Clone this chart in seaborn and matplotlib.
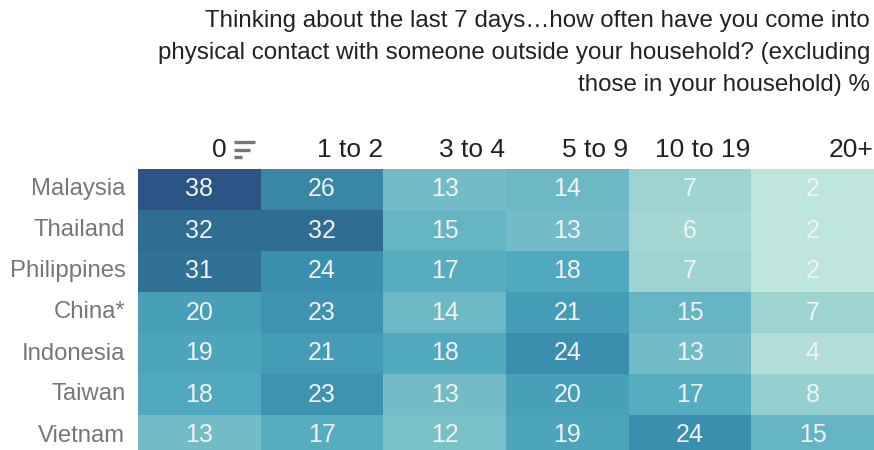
import numpy as np
import pandas as pd
import matplotlib
matplotlib.use("Agg")
import matplotlib.pyplot as plt
from matplotlib.colors import LinearSegmentedColormap
from matplotlib.lines import Line2D
import seaborn as sns

# dados
countries = ["Malaysia", "Thailand", "Philippines", "China*", "Indonesia", "Taiwan", "Vietnam"]
buckets = ["0", "1 to 2", "3 to 4", "5 to 9", "10 to 19", "20+"]
v_0 = [38, 32, 31, 20, 19, 18, 13]
v_1_2 = [26, 32, 24, 23, 21, 23, 17]
v_3_4 = [13, 15, 17, 14, 18, 13, 12]
v_5_9 = [14, 13, 18, 21, 24, 20, 19]
v_10_19 = [7, 6, 7, 15, 13, 17, 24]
v_20p = [2, 2, 2, 7, 4, 8, 15]

title = ("Thinking about the last 7 days\u2026how often have you come into\n"
         "physical contact with someone outside your household? (excluding\n"
         "those in your household) %")

df = pd.DataFrame({"0": v_0, "1 to 2": v_1_2, "3 to 4": v_3_4, "5 to 9": v_5_9,
                   "10 to 19": v_10_19, "20+": v_20p}, index=countries)[buckets]

sns.set_theme(style="white")
plt.rcParams["font.family"] = ["Liberation Sans", "DejaVu Sans"]

# escala de cores aproximada (mint -> azul escuro)
stops = [(0.0, "#bfe6dc"), (5 / 36, "#9dd3d0"), (11 / 36, "#73bcc7"),
         (16 / 36, "#50a9be"), (22 / 36, "#3a8fae"), (30 / 36, "#306d93"),
         (1.0, "#2c5585")]
cmap = LinearSegmentedColormap.from_list("mintblue", stops)

W, H = 874, 450
fig = plt.figure(figsize=(W / 100, H / 100), dpi=100)
left, top, row_h = 138, 169, 41
ax = fig.add_axes([left / W, (H - top - row_h * len(countries)) / H,
                   (W - left) / W, row_h * len(countries) / H])

sns.heatmap(df, ax=ax, cmap=cmap, vmin=2, vmax=38, cbar=False, annot=True, fmt="d",
            annot_kws={"color": "#f2f2f2", "fontsize": 18}, linewidths=0,
            xticklabels=False, yticklabels=True)

ax.set_xlabel("")
ax.set_ylabel("")
ax.tick_params(axis="y", length=0, pad=9, labelsize=17.2, labelcolor="#777777")
plt.setp(ax.get_yticklabels(), rotation=0)

# cabecalhos das colunas, alinhados a direita
for j, name in enumerate(buckets):
    xr = j + 1 - 0.005
    if j == 0:
        xr = j + 1 - 0.28
    ax.text(xr, -12 / row_h, name, ha="right", va="baseline", fontsize=19,
            color="#222222", clip_on=False)

# icone de ordenacao ao lado do "0"
for k, (x0, x1) in enumerate([(234, 255), (234, 250), (234, 242)]):
    y = H - (142 + k * 7.5)
    fig.add_artist(Line2D([x0 / W, x1 / W], [y / H, y / H], color="#777777",
                          linewidth=2.4, solid_capstyle="butt"))

fig.text(870 / W, 1 - 10 / H, title, ha="right", va="top", fontsize=17.4,
         color="#222222", linespacing=1.6, multialignment="right")

fig.savefig("out.png", dpi=100)
